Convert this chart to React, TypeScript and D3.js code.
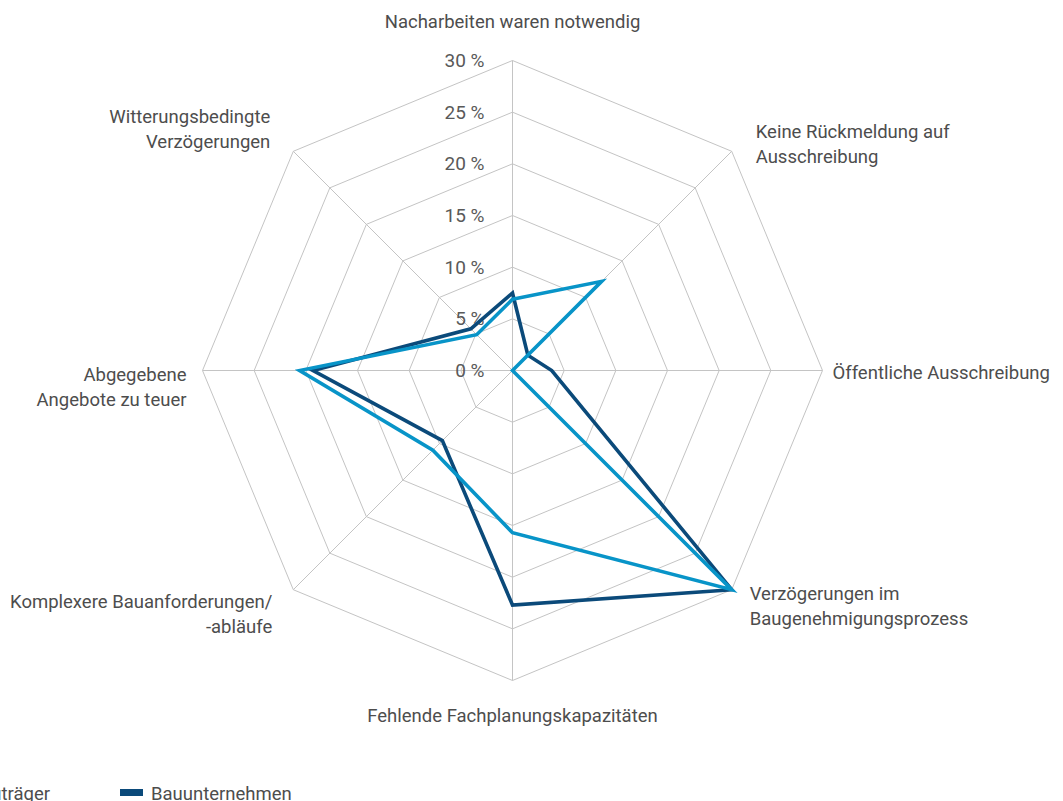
import React, { useEffect, useRef } from "react";
import * as d3 from "d3";

// Kategorien im Uhrzeigersinn, oben beginnend
const categories = [
  ["Nacharbeiten waren notwendig"],
  ["Keine Rückmeldung auf", "Ausschreibung"],
  ["Öffentliche Ausschreibung"],
  ["Verzögerungen im", "Baugenehmigungsprozess"],
  ["Fehlende Fachplanungskapazitäten"],
  ["Komplexere Bauanforderungen/", "-abläufe"],
  ["Abgegebene", "Angebote zu teuer"],
  ["Witterungsbedingte", "Verzögerungen"],
];

const bautraeger = [6.9, 12.2, 0, 30, 15.7, 10.9, 20.6, 4.9];
const bauunternehmen = [7.5, 2.1, 3.8, 30, 22.7, 9.6, 19.3, 5.7];

const ticks = [0, 5, 10, 15, 20, 25, 30];
const seriesNames = ["Bauträger", "Bauunternehmen"];

// label offsets from each axis tip (Excel-style placement)
const labelOffsets: [number, number][] = [
  [0, -33], [24, -13], [10, 8], [18, 10], [0, 41], [-21, 18], [-16, 10], [-23, -28],
];

const W = 1063, H = 801;
const cx = 512.5, cy = 370.5, R = 310;
const DARK = "#0b4a7a";
const LIGHT = "#0894c8";
const FONT = "Roboto, 'Noto Sans', sans-serif";

export default function App() {
  const ref = useRef<SVGSVGElement>(null);

  useEffect(() => {
    const svg = d3.select(ref.current);
    svg.selectAll("*").remove();

    const n = categories.length;
    const r = d3.scaleLinear().domain([0, 30]).range([0, R]);
    const angle = (i: number) => (i * 2 * Math.PI) / n;
    const px = (i: number, v: number) => cx + r(v) * Math.sin(angle(i));
    const py = (i: number, v: number) => cy - r(v) * Math.cos(angle(i));

    const g = svg.append("g");

    // grid rings
    ticks.filter((t) => t > 0).forEach((t) => {
      g.append("polygon")
        .attr("points", d3.range(n).map((i) => `${px(i, t)},${py(i, t)}`).join(" "))
        .attr("fill", "none")
        .attr("stroke", "#c4c4c4")
        .attr("stroke-width", 1);
    });

    // spokes
    d3.range(n).forEach((i) => {
      g.append("line")
        .attr("x1", cx).attr("y1", cy)
        .attr("x2", px(i, 30)).attr("y2", py(i, 30))
        .attr("stroke", "#c4c4c4")
        .attr("stroke-width", 1);
    });

    // tick labels
    ticks.forEach((t) => {
      g.append("text")
        .attr("x", cx - 28)
        .attr("y", cy - r(t))
        .attr("dy", "0.35em")
        .attr("text-anchor", "end")
        .attr("font-family", FONT)
        .attr("font-size", 19)
        .attr("fill", "#595959")
        .text(`${t} %`);
    });

    // series
    const line = d3.lineRadial<number>()
      .angle((_, i) => angle(i))
      .radius((d) => r(d))
      .curve(d3.curveLinearClosed);

    [[bauunternehmen, DARK], [bautraeger, LIGHT]].forEach(([vals, col]) => {
      g.append("path")
        .attr("transform", `translate(${cx},${cy})`)
        .attr("d", line(vals as number[]))
        .attr("fill", "none")
        .attr("stroke", col as string)
        .attr("stroke-width", 3.6)
        .attr("stroke-linejoin", "miter");
    });

    // category labels
    categories.forEach((lines, i) => {
      const s = Math.sin(angle(i));
      const anchor = s > 0.1 ? "start" : s < -0.1 ? "end" : "middle";
      const [dx, dy] = labelOffsets[i];
      const t = g.append("text")
        .attr("text-anchor", anchor)
        .attr("font-family", FONT)
        .attr("font-size", 18.5)
        .attr("fill", "#4d4d4d");
      lines.forEach((l, k) => {
        t.append("tspan")
          .attr("x", px(i, 30) + dx)
          .attr("y", py(i, 30) + dy + k * 25)
          .text(l);
      });
    });

    // legend
    const leg = g.append("g").attr("font-family", FONT).attr("font-size", 18.5).attr("fill", "#4d4d4d");
    leg.append("text").attr("x", 50).attr("y", 800).attr("text-anchor", "end").text(seriesNames[0]);
    leg.append("rect").attr("x", -60).attr("y", 789).attr("width", 23).attr("height", 7).attr("fill", LIGHT);
    leg.append("rect").attr("x", 120).attr("y", 789).attr("width", 23).attr("height", 7).attr("fill", DARK);
    leg.append("text").attr("x", 151).attr("y", 800).text(seriesNames[1]);
  }, []);

  return (
    <svg
      ref={ref}
      width={W}
      height={H}
      style={{ position: "absolute", left: 0, top: 0, background: "#fff" }}
    />
  );
}
